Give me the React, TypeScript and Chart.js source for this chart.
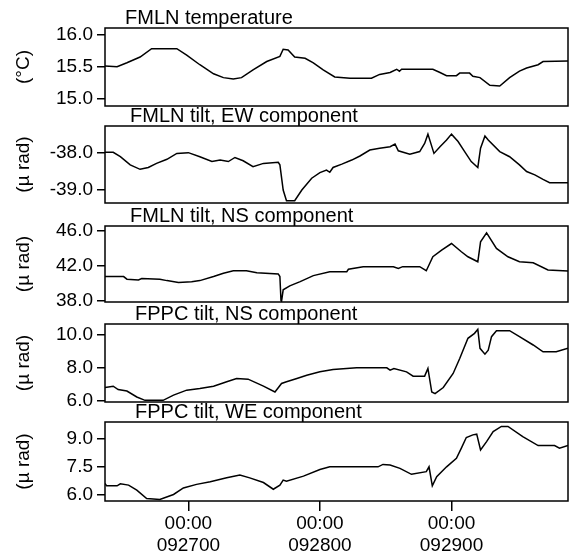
import React, { useEffect, useRef } from "react";
import { Chart, registerables } from "chart.js";

Chart.register(...registerables);
Chart.defaults.font.family = "'Liberation Sans', Arial, Helvetica, sans-serif";
Chart.defaults.color = "#000";

// x values are hours relative to 092700 00:00
const X_MIN = -15.2;
const X_MAX = 69.25;
const xTickHours = [0, 24, 48];
const xTickTimes = ["00:00", "00:00", "00:00"];
const xTickDates = ["092700", "092800", "092900"];

// Panel 1: FMLN temperature
const tempHours = [-15.2, -13.0, -11.2, -8.8, -6.7, -2.1, -0.3, 2.1, 4.6, 6.4, 8.2, 9.7, 11.8, 14.3, 16.7, 17.3, 18.2, 19.4, 21.3, 22.8, 24.6, 26.7, 29.5, 33.4, 34.9, 36.8, 38.0, 38.5, 38.9, 44.6, 45.9, 47.1, 48.9, 49.5, 51.3, 51.9, 53.2, 55.0, 56.8, 58.6, 60.4, 61.7, 63.8, 64.7, 69.25];
const tempValues = [15.51, 15.50, 15.56, 15.65, 15.78, 15.78, 15.68, 15.53, 15.39, 15.33, 15.31, 15.33, 15.45, 15.58, 15.66, 15.77, 15.76, 15.65, 15.63, 15.56, 15.45, 15.34, 15.32, 15.32, 15.38, 15.41, 15.46, 15.43, 15.46, 15.46, 15.41, 15.36, 15.36, 15.40, 15.40, 15.35, 15.33, 15.21, 15.20, 15.33, 15.43, 15.48, 15.53, 15.58, 15.59];
const tempTicks = [15.0, 15.5, 16.0];

// Panel 2: FMLN tilt, EW component
const fmlnEwHours = [-15.2, -13.7, -12.4, -10.6, -8.8, -7.3, -5.8, -3.9, -2.1, 0.0, 2.1, 4.3, 5.8, 7.3, 8.5, 10.0, 11.8, 13.7, 16.4, 16.7, 17.3, 17.9, 19.4, 20.7, 22.5, 24.0, 25.2, 25.8, 26.4, 28.0, 29.8, 31.3, 33.1, 34.9, 36.8, 37.7, 38.3, 40.4, 42.2, 43.1, 43.7, 44.8, 45.9, 47.1, 48.0, 49.2, 50.4, 51.6, 52.8, 53.3, 54.1, 54.7, 56.8, 58.6, 60.4, 61.7, 63.2, 64.7, 65.9, 69.25];
const fmlnEwValues = [-38.00, -38.00, -38.12, -38.34, -38.46, -38.41, -38.30, -38.19, -38.03, -38.01, -38.12, -38.25, -38.21, -38.25, -38.14, -38.23, -38.39, -38.30, -38.27, -38.34, -39.02, -39.31, -39.31, -39.02, -38.70, -38.55, -38.48, -38.54, -38.41, -38.32, -38.21, -38.10, -37.94, -37.89, -37.85, -37.78, -37.96, -38.05, -37.98, -37.76, -37.51, -38.03, -37.85, -37.67, -37.51, -37.71, -37.98, -38.25, -38.41, -37.89, -37.56, -37.67, -37.98, -38.12, -38.34, -38.52, -38.61, -38.73, -38.82, -38.82];
const fmlnEwTicks = [-39.0, -38.0];

// Panel 3: FMLN tilt, NS component
const fmlnNsHours = [-15.2, -11.8, -11.2, -9.1, -8.5, -5.2, -3.9, -1.8, 0.6, 2.1, 4.6, 6.4, 8.2, 10.6, 12.5, 16.4, 16.7, 16.9, 17.0, 17.3, 18.5, 20.4, 22.8, 25.8, 28.9, 29.2, 31.9, 37.4, 38.3, 39.1, 42.2, 43.4, 44.6, 46.2, 48.0, 49.8, 51.0, 52.8, 53.3, 54.4, 56.2, 58.3, 60.4, 62.9, 65.6, 69.25];
const fmlnNsValues = [40.72, 40.72, 40.42, 40.34, 40.50, 40.42, 40.26, 40.04, 40.12, 40.26, 40.72, 41.10, 41.39, 41.39, 41.17, 41.02, 40.72, 38.00, 37.89, 39.21, 39.66, 40.15, 40.83, 41.28, 41.28, 41.55, 41.85, 41.85, 41.66, 41.85, 41.85, 41.39, 42.98, 43.74, 44.49, 43.55, 42.98, 42.41, 44.68, 45.70, 43.93, 42.98, 42.41, 42.30, 41.47, 41.36];
const fmlnNsTicks = [38.0, 42.0, 46.0];

// Panel 4: FPPC tilt, NS component
const fppcNsHours = [-15.2, -13.7, -12.8, -11.2, -9.4, -7.9, -4.6, -2.7, -0.3, 2.1, 4.6, 7.0, 8.8, 10.9, 13.7, 15.8, 17.0, 17.9, 19.8, 21.6, 24.0, 26.4, 30.7, 36.2, 36.8, 37.5, 39.8, 41.0, 43.1, 43.7, 44.4, 45.0, 46.5, 48.3, 49.5, 51.0, 52.2, 52.8, 53.2, 54.1, 54.7, 55.3, 56.2, 58.6, 60.4, 62.9, 64.7, 67.1, 69.25];
const fppcNsValues = [6.81, 6.89, 6.69, 6.60, 6.24, 6.04, 6.04, 6.35, 6.65, 6.75, 6.89, 7.15, 7.35, 7.31, 6.89, 6.54, 7.05, 7.15, 7.35, 7.55, 7.75, 7.89, 7.99, 7.99, 7.85, 7.95, 7.75, 7.49, 7.49, 7.95, 6.54, 6.44, 6.81, 7.65, 8.55, 9.76, 10.06, 10.30, 9.16, 8.81, 9.05, 9.86, 10.22, 10.22, 9.86, 9.36, 8.95, 8.95, 9.16];
const fppcNsTicks = [6.0, 8.0, 10.0];

// Panel 5: FPPC tilt, WE component
const fppcWeHours = [-15.2, -14.9, -13.0, -12.4, -10.9, -9.4, -7.6, -5.2, -2.7, -0.9, 1.5, 4.0, 7.0, 9.4, 11.2, 13.7, 15.5, 16.7, 17.3, 17.9, 21.0, 24.0, 25.8, 34.6, 35.5, 36.8, 38.6, 40.7, 43.4, 43.9, 44.5, 45.3, 47.1, 48.9, 49.8, 50.7, 51.9, 52.6, 53.3, 54.4, 55.6, 57.1, 58.3, 61.0, 63.8, 66.8, 67.7, 69.25];
const fppcWeValues = [6.63, 6.50, 6.50, 6.61, 6.54, 6.27, 5.82, 5.77, 6.04, 6.39, 6.58, 6.72, 6.93, 7.08, 6.93, 6.68, 6.32, 6.54, 6.81, 6.75, 7.02, 7.38, 7.52, 7.52, 7.65, 7.62, 7.44, 7.12, 7.26, 7.52, 6.50, 6.99, 7.52, 7.98, 8.52, 9.09, 9.23, 9.27, 8.42, 8.87, 9.41, 9.68, 9.68, 9.14, 8.66, 8.66, 8.52, 8.66];
const fppcWeTicks = [6.0, 7.5, 9.0];

const W = 573;
const H = 558;

type Panel = {
  title: string;
  yLabel: string;
  hours: number[];
  values: number[];
  ticks: number[];
  yMin: number;
  yMax: number;
  frameTop: number;
  frameBottom: number;
  titleOffset: number;
};

const panels: Panel[] = [
  { title: "FMLN temperature", yLabel: "(°C)", hours: tempHours, values: tempValues, ticks: tempTicks, yMin: 14.89, yMax: 16.1, frameTop: 28, frameBottom: 106, titleOffset: 20 },
  { title: "FMLN tilt, EW component", yLabel: "(µ rad)", hours: fmlnEwHours, values: fmlnEwValues, ticks: fmlnEwTicks, yMin: -39.37, yMax: -37.29, frameTop: 126, frameBottom: 203, titleOffset: 25 },
  { title: "FMLN tilt, NS component", yLabel: "(µ rad)", hours: fmlnNsHours, values: fmlnNsValues, ticks: fmlnNsTicks, yMin: 37.82, yMax: 46.49, frameTop: 226, frameBottom: 302, titleOffset: 25 },
  { title: "FPPC tilt, NS component", yLabel: "(µ rad)", hours: fppcNsHours, values: fppcNsValues, ticks: fppcNsTicks, yMin: 5.94, yMax: 10.62, frameTop: 324, frameBottom: 402, titleOffset: 30 },
  { title: "FPPC tilt, WE component", yLabel: "(µ rad)", hours: fppcWeHours, values: fppcWeValues, ticks: fppcWeTicks, yMin: 5.69, yMax: 9.92, frameTop: 422, frameBottom: 501, titleOffset: 30 },
];

const framePlugin = {
  id: "frame",
  afterDatasetsDraw(chart: any, _args: any, opts: any) {
    const { ctx, chartArea } = chart;
    const { left, top, right, bottom } = chartArea;
    ctx.save();
    ctx.strokeStyle = "#000";
    ctx.lineWidth = 1.5;
    ctx.strokeRect(left, top, right - left, bottom - top);
    ctx.fillStyle = "#000";
    ctx.font = "20px 'Liberation Sans', Arial, Helvetica, sans-serif";
    ctx.textAlign = "left";
    ctx.textBaseline = "alphabetic";
    ctx.fillText(opts.title, left + opts.offset, top - 4);
    ctx.restore();
  },
};

function PanelChart({ p, isLast }: { p: Panel; isLast: boolean }) {
  const ref = useRef<HTMLCanvasElement | null>(null);
  useEffect(() => {
    if (!ref.current) return;
    const n = Math.min(p.hours.length, p.values.length);
    const points = [] as { x: number; y: number }[];
    for (let i = 0; i < n; i++) points.push({ x: p.hours[i], y: p.values[i] });
    const chart = new Chart(ref.current, {
      type: "line",
      data: {
        datasets: [
          {
            data: points,
            borderColor: "#000",
            borderWidth: 1.5,
            pointRadius: 0,
            tension: 0,
            fill: false,
          },
        ],
      },
      options: {
        animation: false,
        responsive: false,
        maintainAspectRatio: false,
        devicePixelRatio: 1,
        events: [],
        layout: {
          padding: { left: 0, right: 5, top: p.frameTop, bottom: isLast ? 0 : H - p.frameBottom },
        },
        plugins: {
          legend: { display: false },
          tooltip: { enabled: false },
          frame: { title: p.title, offset: p.titleOffset },
        } as any,
        scales: {
          x: {
            type: "linear",
            min: X_MIN,
            max: X_MAX,
            display: isLast,
            position: "bottom",
            afterBuildTicks: (s: any) => {
              s.ticks = xTickHours.map((v) => ({ value: v }));
            },
            afterFit: (s: any) => {
              s.height = isLast ? H - p.frameBottom : 0;
            },
            border: { display: false },
            grid: {
              display: true,
              drawOnChartArea: false,
              drawTicks: true,
              tickLength: 10,
              color: "#000",
              lineWidth: 1.5,
            },
            ticks: {
              autoSkip: false,
              maxRotation: 0,
              minRotation: 0,
              padding: 1,
              color: "#000",
              font: { size: 19, lineHeight: 1.19 },
              callback: (_v: any, i: number) => [xTickTimes[i], xTickDates[i]],
            },
          },
          y: {
            type: "linear",
            min: p.yMin,
            max: p.yMax,
            afterBuildTicks: (s: any) => {
              s.ticks = p.ticks.map((v) => ({ value: v }));
            },
            afterFit: (s: any) => {
              s.width = 105;
            },
            border: { display: false },
            grid: {
              display: true,
              drawOnChartArea: false,
              drawTicks: true,
              tickLength: 8,
              color: "#000",
              lineWidth: 1.5,
            },
            ticks: {
              padding: 4,
              color: "#000",
              font: { size: 19 },
              callback: (v: any) => Number(v).toFixed(1),
            },
            title: {
              display: true,
              text: p.yLabel,
              color: "#000",
              font: { size: 19, lineHeight: 1.2 },
              padding: { top: 12.6, bottom: 0 },
            },
          },
        },
      },
      plugins: [framePlugin],
    } as any);
    return () => chart.destroy();
  }, [p, isLast]);
  return (
    <canvas
      ref={ref}
      width={W}
      height={H}
      style={{ position: "absolute", left: 0, top: 0, width: W, height: H }}
    />
  );
}

export default function App() {
  return (
    <div
      style={{
        position: "absolute",
        left: 0,
        top: 0,
        width: W,
        height: H,
        background: "#fff",
        overflow: "hidden",
      }}
    >
      {panels.map((p, i) => (
        <PanelChart key={i} p={p} isLast={i === panels.length - 1} />
      ))}
    </div>
  );
}
